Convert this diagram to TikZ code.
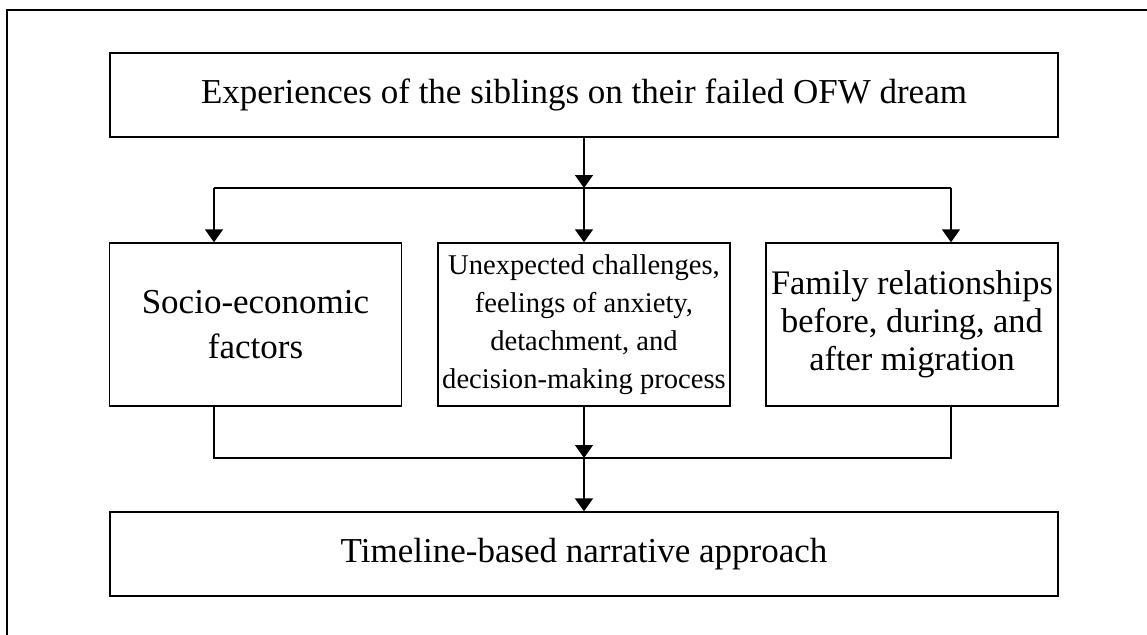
\documentclass[tikz,border=0pt]{standalone}
\usepackage{fontspec}
\setmainfont{Liberation Serif}
\usetikzlibrary{arrows.meta,positioning}
\tikzset{
    flowbox/.style={rectangle, draw, line width=0.7pt, inner sep=0pt, align=center,
        font=\fontsize{17.5}{19}\selectfont},
    widebox/.style={minimum width=474pt, minimum height=42pt},
    tallbox/.style={minimum width=146pt, minimum height=81.5pt},
    flow/.style={line width=0.75pt, -{Triangle[width=9pt,length=6.5pt]}},
    link/.style={line width=0.75pt},
}

\begin{document}
\begin{tikzpicture}[x=1pt,y=1pt]
\clip (0,0) rectangle (573.5,-317);
\draw[line width=0.9pt] (3.5,-5) rectangle (600,-340);

\node[flowbox, widebox] (dream) at (292,-47.5) {Experiences of the siblings on their failed OFW dream};
\node[flowbox, tallbox, font=\fontsize{17.5}{22.5}\selectfont] (socio) at (127.75,-162.25) {Socio-economic\\factors};
\node[flowbox, tallbox, font=\fontsize{14.3}{18.9}\selectfont] (chall) at (292,-162.25)
    {Unexpected challenges,\\feelings of anxiety,\\detachment, and\\decision-making process};
\node[flowbox, tallbox, font=\fontsize{17.2}{19}\selectfont] (family) at (456,-162.25)
    {Family relationships\\before, during, and\\after migration};
\node[flowbox, widebox] (narr) at (292,-277) {Timeline-based narrative approach};

% split and merge points
\coordinate (split) at (292,-94);
\coordinate (splitL) at (107,-94);
\coordinate (splitR) at (475.5,-94);
\coordinate (merge) at (292,-229);
\coordinate (mergeL) at (107,-229);
\coordinate (mergeR) at (475.5,-229);

\draw[flow] (dream) -- (split);
\draw[link] (splitL) -- (splitR);
\draw[flow] (splitL) -- (splitL |- socio.north);
\draw[flow] (split) -- (chall);
\draw[flow] (splitR) -- (splitR |- family.north);

\draw[link] (mergeL |- socio.south) -- (mergeL) -- (mergeR) -- (mergeR |- family.south);
\draw[flow] (chall) -- (merge);
\draw[flow] (merge) -- (narr);
\end{tikzpicture}
\end{document}
